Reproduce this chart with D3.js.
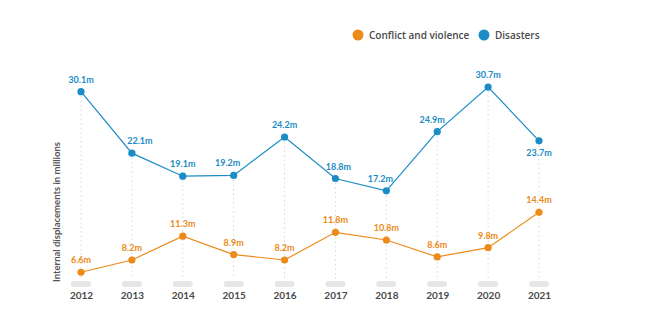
<!DOCTYPE html>
<html>
<head>
<meta charset="utf-8">
<script src="https://cdn.jsdelivr.net/npm/d3@7"></script>
<style>
  body { margin: 0; background: #fff; }
  svg { font-family: Lato, "Open Sans", sans-serif; }
</style>
</head>
<body>
<script>
const width = 656;
const height = 323;

const years = ['2012', '2013', '2014', '2015', '2016', '2017', '2018', '2019', '2020', '2021'];
const conflict = [6.6, 8.2, 11.3, 8.9, 8.2, 11.8, 10.8, 8.6, 9.8, 14.4];
const disasters = [30.1, 22.1, 19.1, 19.2, 24.2, 18.8, 17.2, 24.9, 30.7, 23.7];
const seriesNames = ['Conflict and violence', 'Disasters'];

const orange = '#ec8a1a';
const blue = '#1b8cc5';

// label nudges for the disaster values (dx, dy)
const disasterNudge = [[0, -9], [8, -9], [0, -9], [-6, -9], [0, -9], [3, -9], [-6, -9], [-5, -9], [0, -9], [0, 15]];

const svg = d3.select('body')
  .append('svg')
  .attr('width', width)
  .attr('height', height);

const x = d3.scalePoint()
  .domain(years)
  .range([81, 539]);

const y = d3.scaleLinear()
  .domain([0, 35])
  .range([323, 54]);

// year axis
const xAxis = svg.append('g')
  .attr('transform', 'translate(0,284)')
  .call(d3.axisBottom(x).tickSize(0).tickPadding(8));
xAxis.select('.domain').remove();
xAxis.selectAll('text')
  .attr('fill', '#4a4a4a')
  .attr('font-size', 10)
  .attr('font-weight', 700)
  .attr('font-family', 'Lato, sans-serif');

// grey pills under each year
svg.selectAll('rect.pill')
  .data(years)
  .join('rect')
  .attr('class', 'pill')
  .attr('x', d => x(d) - 10)
  .attr('y', 281)
  .attr('width', 20)
  .attr('height', 6)
  .attr('rx', 3)
  .attr('fill', '#e6e6e6');

// dotted drop lines
svg.selectAll('line.drop')
  .data(years)
  .join('line')
  .attr('class', 'drop')
  .attr('x1', d => x(d))
  .attr('x2', d => x(d))
  .attr('y1', (d, i) => y(disasters[i]))
  .attr('y2', 279)
  .attr('stroke', '#d8d8d8')
  .attr('stroke-width', 1)
  .attr('stroke-dasharray', '1.5,3');

// y axis title
svg.append('text')
  .attr('transform', 'translate(60,212) rotate(-90)')
  .attr('text-anchor', 'middle')
  .attr('fill', '#555')
  .attr('font-size', 9.5)
  .attr('font-weight', 700)
  .text('Internal displacements in millions');

const line = d3.line()
  .x((d, i) => x(years[i]))
  .y(d => y(d));

function drawSeries(values, color, nudge) {
  svg.append('path')
    .datum(values)
    .attr('fill', 'none')
    .attr('stroke', color)
    .attr('stroke-width', 1.2)
    .attr('d', line);

  svg.append('g')
    .selectAll('circle')
    .data(values)
    .join('circle')
    .attr('cx', (d, i) => x(years[i]))
    .attr('cy', d => y(d))
    .attr('r', 3.6)
    .attr('fill', color);

  svg.append('g')
    .selectAll('text')
    .data(values)
    .join('text')
    .attr('x', (d, i) => x(years[i]) + nudge(i)[0])
    .attr('y', (d, i) => y(d) + nudge(i)[1])
    .attr('text-anchor', 'middle')
    .attr('fill', color)
    .attr('font-size', 9)
    .attr('font-weight', 700)
    .text(d => d.toFixed(1) + 'm');
}

drawSeries(conflict, orange, () => [0, -9]);
drawSeries(disasters, blue, i => disasterNudge[i]);

// legend
const legend = svg.append('g')
  .selectAll('g')
  .data(seriesNames)
  .join('g')
  .attr('transform', (d, i) => `translate(${i === 0 ? 358 : 484},35)`);

legend.append('circle')
  .attr('r', 5.5)
  .attr('fill', (d, i) => i === 0 ? orange : blue);

legend.append('text')
  .attr('x', 11)
  .attr('dy', '0.35em')
  .attr('fill', '#4a4a4a')
  .attr('font-size', 10)
  .attr('font-weight', 600)
  .attr('font-family', '"Open Sans", sans-serif')
  .text(d => d);
</script>
</body>
</html>
